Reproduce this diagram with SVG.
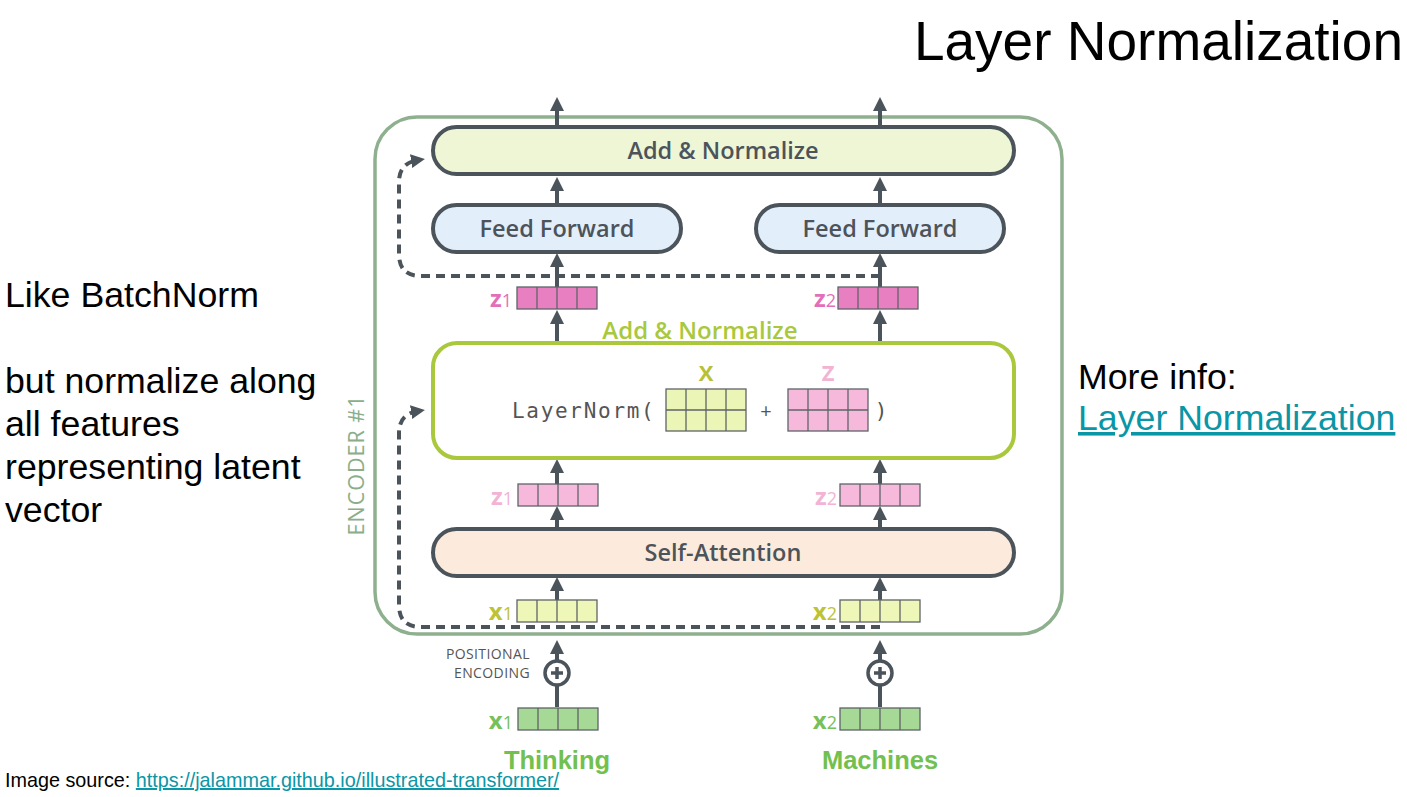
<svg xmlns="http://www.w3.org/2000/svg" width="1407" height="797" viewBox="0 0 1407 797">
<style>
.t{font-family:"Liberation Sans",Arial,sans-serif;fill:#000}
.d{font-family:"Open Sans","Noto Sans",sans-serif;fill:#4d535a;text-anchor:middle;font-weight:600}
.box{stroke:#4b535b;stroke-width:4}
.ar{stroke:#4b535b;stroke-width:4;fill:none}
.dash{stroke:#4b535b;stroke-width:4;fill:none;stroke-dasharray:9 6}
.cell{stroke:#5f6468;stroke-width:1.3}
.lbl{font-family:"Open Sans","Noto Sans",sans-serif;font-weight:700;font-size:24px;text-anchor:end}
.sub{font-size:18px;font-weight:400}
</style>
<defs>
<marker id="ah" viewBox="0 0 10 10" refX="5" refY="5" markerWidth="14" markerHeight="14" markerUnits="userSpaceOnUse" orient="auto">
<path d="M0,0 L10,5 L0,10 z" fill="#4b535b"/>
</marker>
<g id="vec4"><rect x="0" y="0" width="80" height="22" class="cell"/><line x1="20" y1="0" x2="20" y2="22" class="cell"/><line x1="40" y1="0" x2="40" y2="22" class="cell"/><line x1="60" y1="0" x2="60" y2="22" class="cell"/></g>
</defs>
<rect width="1407" height="797" fill="#fff"/>

<g id="title"><text class="t" x="1403" y="60" font-size="55" text-anchor="end">Layer Normalization</text></g>
<g id="left-text" class="t" font-size="35.7">
<text class="t" x="5" y="307">Like BatchNorm</text>
<text class="t" x="5" y="393">but normalize along</text>
<text class="t" x="5" y="436">all features</text>
<text class="t" x="5" y="479">representing latent</text>
<text class="t" x="5" y="522">vector</text>
</g>
<g id="more-info">
<text class="t" x="1078" y="389" font-size="35.7">More info:</text>
<text x="1078" y="430" font-size="35.7" font-family="Liberation Sans,Arial,sans-serif" fill="#0a96a6" text-decoration="underline">Layer Normalization</text>
</g>
<g id="source">
<text class="t" x="5" y="787" font-size="19.8">Image source: <tspan fill="#0a96a6" text-decoration="underline">https://jalammar.github.io/illustrated-transformer/</tspan></text>
</g>

<g id="encoder">
<rect x="375" y="117" width="687" height="517" rx="42" fill="none" stroke="#8fb08f" stroke-width="3.5"/>
<text x="0" y="0" transform="translate(364,465) rotate(-90)" font-family="Open Sans,Noto Sans,sans-serif" font-size="21.5" fill="#8aae8a" text-anchor="middle" letter-spacing="1">ENCODER #1</text>
</g>

<g id="connectors">
<path class="ar" d="M557,126 V104" marker-end="url(#ah)"/>
<path class="ar" d="M880,126 V104" marker-end="url(#ah)"/>
<path class="ar" d="M557,203 V184" marker-end="url(#ah)"/>
<path class="ar" d="M880,203 V184" marker-end="url(#ah)"/>
<path class="ar" d="M557,287 V260" marker-end="url(#ah)"/>
<path class="ar" d="M880,287 V260" marker-end="url(#ah)"/>
<path class="ar" d="M557,342 V317" marker-end="url(#ah)"/>
<path class="ar" d="M880,342 V317" marker-end="url(#ah)"/>
<path class="ar" d="M557,484 V466" marker-end="url(#ah)"/>
<path class="ar" d="M880,484 V466" marker-end="url(#ah)"/>
<path class="ar" d="M557,528 V513" marker-end="url(#ah)"/>
<path class="ar" d="M880,528 V513" marker-end="url(#ah)"/>
<path class="ar" d="M557,600 V584" marker-end="url(#ah)"/>
<path class="ar" d="M880,600 V584" marker-end="url(#ah)"/>
<path class="ar" d="M557,661 V647" marker-end="url(#ah)"/>
<path class="ar" d="M880,661 V647" marker-end="url(#ah)"/>
<path class="ar" d="M557,707 V685"/>
<path class="ar" d="M880,707 V685"/>
<path class="dash" d="M880,276 H421 Q399,276 399,254 V182 Q399,163 418,160" marker-end="url(#ah)"/>
<path class="dash" d="M880,627 H421 Q399,627 399,605 V433 Q399,414 418,411" marker-end="url(#ah)"/>
</g>

<g id="add-norm-top">
<rect x="433" y="127" width="581" height="47" rx="23.5" fill="#eef6d6" class="box"/>
<text class="d" x="723" y="159" font-size="23.5">Add &amp; Normalize</text>
</g>
<g id="ff-left">
<rect x="433" y="205" width="248" height="47" rx="23.5" fill="#e3eefb" class="box"/>
<text class="d" x="557" y="237" font-size="23.5">Feed Forward</text>
</g>
<g id="ff-right">
<rect x="756" y="205" width="248" height="47" rx="23.5" fill="#e3eefb" class="box"/>
<text class="d" x="880" y="237" font-size="23.5">Feed Forward</text>
</g>

<g id="z-top-1">
<use href="#vec4" x="517" y="287" fill="#e87fc1"/>
<text class="lbl" x="512" y="307" fill="#e36fb8">z<tspan class="sub">1</tspan></text>
</g>
<g id="z-top-2">
<use href="#vec4" x="838" y="287" fill="#e87fc1"/>
<text class="lbl" x="836" y="307" fill="#e36fb8">z<tspan class="sub">2</tspan></text>
</g>

<g id="layernorm">
<text x="700" y="339" font-family="Open Sans,Noto Sans,sans-serif" font-size="24" font-weight="600" fill="#a9c83c" text-anchor="middle">Add &amp; Normalize</text>
<rect x="433" y="343" width="581" height="115" rx="24" fill="#fff" stroke="#a9c83c" stroke-width="4"/>
<text x="512" y="418" font-family="DejaVu Sans Mono,Liberation Mono,monospace" font-size="21" letter-spacing="1.7" fill="#555">LayerNorm(</text>
<text x="706" y="381" font-family="Open Sans,Noto Sans,sans-serif" font-size="22" font-weight="700" fill="#b8c035" text-anchor="middle">X</text>
<rect x="666" y="389" width="80" height="42" class="cell" fill="#eaf5b6"/>
<path d="M686,389 V431 M706,389 V431 M726,389 V431 M666,410 H746" class="cell" fill="none"/>
<text x="766" y="418" font-family="Open Sans,Noto Sans,sans-serif" font-size="20" fill="#555" text-anchor="middle">+</text>
<text x="828" y="381" font-family="Open Sans,Noto Sans,sans-serif" font-size="22" font-weight="700" fill="#f2b3d4" text-anchor="middle">Z</text>
<rect x="788" y="389" width="80" height="42" class="cell" fill="#f6b9db"/>
<path d="M808,389 V431 M828,389 V431 M848,389 V431 M788,410 H868" class="cell" fill="none"/>
<text x="881" y="418" font-family="DejaVu Sans Mono,Liberation Mono,monospace" font-size="21" fill="#555" text-anchor="middle">)</text>
</g>

<g id="z-mid-1">
<use href="#vec4" x="518" y="484" fill="#f6b9db"/>
<text class="lbl" x="513" y="505" fill="#f2b3d4">z<tspan class="sub">1</tspan></text>
</g>
<g id="z-mid-2">
<use href="#vec4" x="840" y="484" fill="#f6b9db"/>
<text class="lbl" x="837" y="505" fill="#f2b3d4">z<tspan class="sub">2</tspan></text>
</g>

<g id="self-attention">
<rect x="433" y="529" width="581" height="47" rx="23.5" fill="#fcebdc" class="box"/>
<text class="d" x="723" y="561" font-size="23.5">Self-Attention</text>
</g>

<g id="x-in-1">
<use href="#vec4" x="517" y="600" fill="#eef6b8"/>
<text class="lbl" x="513" y="620" fill="#bcc335">x<tspan class="sub">1</tspan></text>
</g>
<g id="x-in-2">
<use href="#vec4" x="840" y="600" fill="#eef6b8"/>
<text class="lbl" x="837" y="620" fill="#bcc335">x<tspan class="sub">2</tspan></text>
</g>

<g id="pos-enc">
<text x="530" y="659" font-family="Open Sans,Noto Sans,sans-serif" font-size="14" letter-spacing="0.4" fill="#555" text-anchor="end">POSITIONAL</text>
<text x="530" y="678" font-family="Open Sans,Noto Sans,sans-serif" font-size="14" letter-spacing="0.4" fill="#555" text-anchor="end">ENCODING</text>
</g>
<g id="plus-1">
<circle cx="557" cy="673" r="12" fill="#fff" stroke="#4b535b" stroke-width="3.5"/>
<path d="M551,673 H563 M557,667 V679" stroke="#4b535b" stroke-width="3.5"/>
</g>
<g id="plus-2">
<circle cx="880" cy="673" r="12" fill="#fff" stroke="#4b535b" stroke-width="3.5"/>
<path d="M874,673 H886 M880,667 V679" stroke="#4b535b" stroke-width="3.5"/>
</g>

<g id="x-emb-1">
<use href="#vec4" x="518" y="708" fill="#a6d896"/>
<text class="lbl" x="513" y="729" fill="#77c05a">x<tspan class="sub">1</tspan></text>
<text x="557" y="769" font-family="Liberation Sans,Arial,sans-serif" font-size="25.5" font-weight="700" fill="#72c04e" text-anchor="middle">Thinking</text>
</g>
<g id="x-emb-2">
<use href="#vec4" x="840" y="708" fill="#a6d896"/>
<text class="lbl" x="837" y="729" fill="#77c05a">x<tspan class="sub">2</tspan></text>
<text x="880" y="769" font-family="Liberation Sans,Arial,sans-serif" font-size="25.5" font-weight="700" fill="#72c04e" text-anchor="middle">Machines</text>
</g>
</svg>
